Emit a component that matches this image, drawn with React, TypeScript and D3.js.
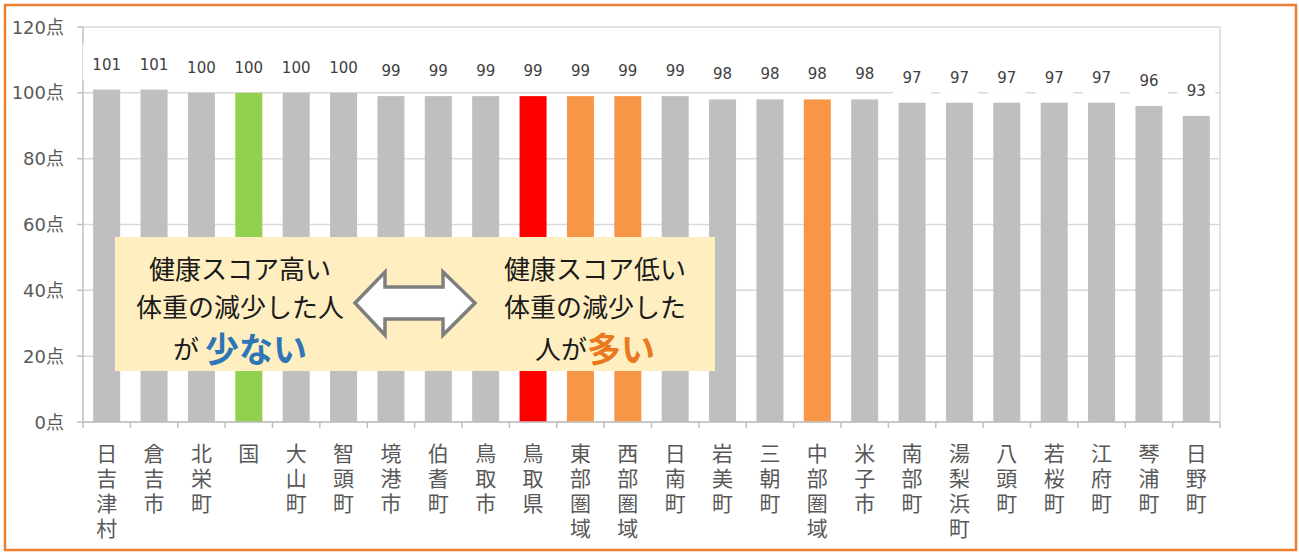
import React from "react";
import * as d3 from "d3";

const categories = ["日吉津村","倉吉市","北栄町","国","大山町","智頭町","境港市","伯耆町","鳥取市","鳥取県","東部圏域","西部圏域","日南町","岩美町","三朝町","中部圏域","米子市","南部町","湯梨浜町","八頭町","若桜町","江府町","琴浦町","日野町"];
const values = [101,101,100,100,100,100,99,99,99,99,99,99,99,98,98,98,98,97,97,97,97,97,96,93];
const highlight: Record<string, string> = { "国": "#92D050", "鳥取県": "#FF0000", "東部圏域": "#F79646", "西部圏域": "#F79646", "中部圏域": "#F79646" };
const yTicks = [0, 20, 40, 60, 80, 100, 120];

const W = 1299, H = 552;
const FONT = "'Noto Sans CJK JP', 'Noto Sans', sans-serif";
const NUMFONT = "'DejaVu Sans', 'Noto Sans CJK JP', sans-serif";

export default function App() {
  const left = 83, right = 1220, top = 27, bottom = 422;
  const x = d3.scaleBand<string>().domain(categories).range([left, right]).paddingInner(0.43).paddingOuter(0.215);
  const y = d3.scaleLinear().domain([0, 120]).range([bottom, top]);
  const step = (right - left) / categories.length;
  const boundaries = d3.range(categories.length + 1).map(i => left + i * step);

  return (
    <svg width={W} height={H} style={{ position: "absolute", left: 0, top: 0, background: "#fff" }} fontFamily={FONT}>
      <rect x={0} y={0} width={W} height={H} fill="#fff" />
      <rect x={5} y={5} width={1291} height={545} fill="none" stroke="#ED7D31" strokeWidth={2.5} />
      {/* gridlines */}
      {yTicks.map(t => (
        <line key={"g" + t} x1={left} x2={right} y1={y(t)} y2={y(t)} stroke="#D9D9D9" strokeWidth={1.5} />
      ))}
      <line x1={right} x2={right} y1={top} y2={bottom} stroke="#D9D9D9" strokeWidth={1.5} />
      {/* y axis */}
      <line x1={left} x2={left} y1={top} y2={bottom} stroke="#BFBFBF" strokeWidth={1.5} />
      {yTicks.map(t => (
        <g key={"yt" + t}>
          <line x1={left - 6} x2={left} y1={y(t)} y2={y(t)} stroke="#BFBFBF" strokeWidth={1.5} />
          <text x={64} y={y(t)} textAnchor="end" dominantBaseline="central" fontSize={18} fill="#595959" fontFamily={NUMFONT}>{t}点</text>
        </g>
      ))}
      {/* bars */}
      {categories.map((c, i) => (
        <rect key={"b" + c} x={x(c)} y={y(values[i])} width={x.bandwidth()} height={bottom - y(values[i])} fill={highlight[c] || "#BFBFBF"} />
      ))}
      {/* x axis */}
      <line x1={left} x2={right} y1={bottom} y2={bottom} stroke="#BFBFBF" strokeWidth={1.5} />
      {boundaries.map((bx, i) => (
        <line key={"xt" + i} x1={bx} x2={bx} y1={bottom} y2={bottom + 6} stroke="#BFBFBF" strokeWidth={1.5} />
      ))}
      {/* data labels */}
      {categories.map((c, i) => {
        const cx = (x(c) as number) + x.bandwidth() / 2;
        const by = y(values[i]);
        const txt = String(values[i]);
        const bw = txt.length === 3 ? 48 : 38;
        return (
          <g key={"l" + c}>
            <rect x={cx - bw / 2} y={by - 45} width={bw} height={36} fill="#fff" />
            <text x={cx} y={by - 25} textAnchor="middle" dominantBaseline="central" fontSize={15} fill="#404040" fontFamily={NUMFONT}>{txt}</text>
          </g>
        );
      })}
      {/* category labels, one character per line */}
      {categories.map(c => {
        const cx = (x(c) as number) + x.bandwidth() / 2;
        return (
          <g key={"c" + c}>
            {Array.from(c).map((ch, j) => (
              <text key={j} x={cx} y={452 + j * 25} textAnchor="middle" dominantBaseline="central" fontSize={21} fill="#595959">{ch}</text>
            ))}
          </g>
        );
      })}
      {/* annotation */}
      <rect x={115} y={237} width={600} height={134} fill="#FFEFC0" />
      <g fontSize={26} fill="#1a1a1a" textAnchor="middle">
        <text x={240} y={267} dominantBaseline="central">健康スコア高い</text>
        <text x={240} y={305} dominantBaseline="central">体重の減少した人</text>
        <text x={240} y={347} dominantBaseline="central">が <tspan fontSize={34} fontWeight={700} fill="#2E75B6">少ない</tspan></text>
        <text x={595} y={267} dominantBaseline="central">健康スコア低い</text>
        <text x={595} y={305} dominantBaseline="central">体重の減少した</text>
        <text x={595} y={347} dominantBaseline="central">人が<tspan fontSize={34} fontWeight={700} fill="#E9781F">多い</tspan></text>
      </g>
      <path d="M355,303 L385,272 L385,287 L443,287 L443,272 L475,303 L443,335 L443,319 L385,319 L385,335 Z" fill="#fff" stroke="#7F7F7F" strokeWidth={3.5} strokeLinejoin="miter" />
    </svg>
  );
}
